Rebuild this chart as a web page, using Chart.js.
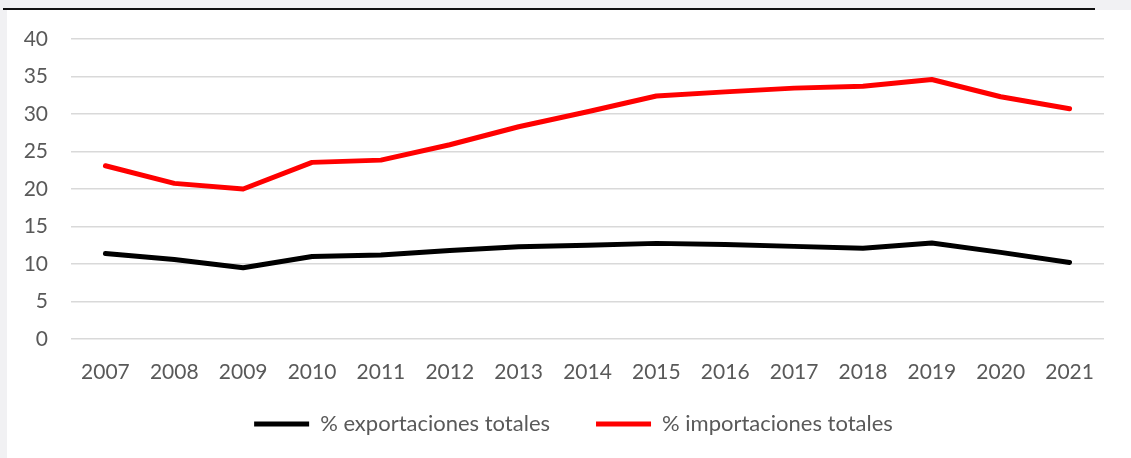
<!DOCTYPE html>
<html>
<head>
<meta charset="utf-8">
<script src="https://cdn.jsdelivr.net/npm/chart.js@4"></script>
<style>
  html, body { margin: 0; padding: 0; }
  body { width: 1131px; height: 458px; background: #f1f1f3; position: relative; overflow: hidden; }
  #panel { position: absolute; left: 7px; top: 10px; right: 0; bottom: 0; background: #ffffff; }
  #rule { position: absolute; left: 3px; top: 8px; width: 1092px; height: 2px; background: #111; }
  #wrap { position: absolute; left: 0; top: 0; width: 1131px; height: 458px; }
</style>
</head>
<body>
<div id="panel"></div>
<div id="rule"></div>
<div id="wrap"><canvas id="c" width="1131" height="458"></canvas></div>
<script>
const years = ["2007","2008","2009","2010","2011","2012","2013","2014","2015","2016","2017","2018","2019","2020","2021"];
const exportaciones = [11.4, 10.6, 9.5, 11.0, 11.2, 11.8, 12.3, 12.5, 12.75, 12.6, 12.35, 12.1, 12.8, 11.55, 10.2];
const importaciones = [23.1, 20.75, 20.0, 23.55, 23.85, 25.9, 28.3, 30.3, 32.4, 32.95, 33.45, 33.7, 34.6, 32.3, 30.7];
const exportLabel = "% exportaciones totales";
const importLabel = "% importaciones totales";
const yMin = 0, yMax = 40, yStep = 5;

Chart.defaults.font.family = "Lato, 'Open Sans', sans-serif";
Chart.defaults.color = "#595959";

new Chart(document.getElementById("c"), {
  type: "line",
  data: {
    labels: years,
    datasets: [
      { label: exportLabel, data: exportaciones, borderColor: "#000000", backgroundColor: "#000000",
        borderWidth: 5, borderCapStyle: "round", borderJoinStyle: "round", pointRadius: 0, tension: 0 },
      { label: importLabel, data: importaciones, borderColor: "#ff0000", backgroundColor: "#ff0000",
        borderWidth: 5, borderCapStyle: "round", borderJoinStyle: "round", pointRadius: 0, tension: 0 }
    ]
  },
  options: {
    responsive: false,
    animation: false,
    layout: { padding: { left: 16, right: 0, top: 39, bottom: 13 } },
    plugins: {
      tooltip: { enabled: false },
      legend: {
        position: "bottom",
        labels: {
          usePointStyle: true,
          pointStyle: "line",
          pointStyleWidth: 55,
          padding: 46,
          font: { size: 22 },
          color: "#595959"
        }
      }
    },
    scales: {
      x: {
        offset: true,
        grid: { display: false, drawTicks: false },
        border: { display: false },
        ticks: { mirror: true, padding: -46, font: { size: 21 }, maxRotation: 0, autoSkip: false },
        afterFit: (s) => { s.height = 28; }
      },
      y: {
        min: yMin, max: yMax,
        grid: { color: "#d9d9d9", lineWidth: 1.5, drawTicks: false },
        border: { display: false },
        ticks: { stepSize: yStep, padding: 23, font: { size: 21 } },
        afterFit: (s) => { s.width = 55; }
      },
      yRight: {
        position: "right",
        min: 0, max: 1,
        grid: { display: false, drawTicks: false },
        border: { display: false },
        ticks: { display: false },
        afterFit: (s) => { s.width = 27; }
      }
    }
  }
});
</script>
</body>
</html>
